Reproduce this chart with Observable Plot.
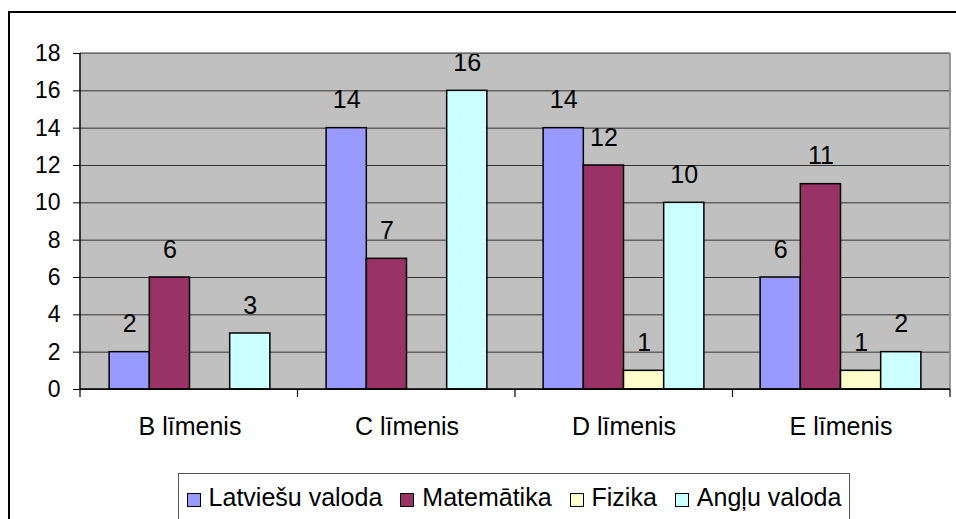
<!DOCTYPE html>
<html>
<head>
<meta charset="utf-8">
<script src="https://cdn.jsdelivr.net/npm/d3@7"></script>
<script src="https://cdn.jsdelivr.net/npm/@observablehq/plot@0.6"></script>
<style>
  html, body { margin: 0; padding: 0; background: #fff; overflow: hidden; }
  body { width: 956px; height: 519px; position: relative; font-family: "Liberation Sans", Arial, sans-serif; }
  #outer { position: absolute; left: 8px; top: 11px; width: 1000px; height: 600px; border: 2px solid #000; box-sizing: border-box; }
  #chart { position: absolute; left: 0; top: 0; }
  #legend { position: absolute; left: 178px; top: 473px; width: 672px; height: 70px; box-sizing: border-box;
            border: 1.5px solid #555; background: #fff; display: flex; align-items: flex-start; justify-content: center;
            padding-top: 9px; font-size: 25px; color: #000; }
  .item { display: flex; align-items: center; margin: 0 9px; white-space: nowrap; }
  .sw { width: 14px; height: 14px; border: 1.5px solid #000; margin-right: 8px; margin-top: 5px; box-sizing: border-box; }
</style>
</head>
<body>
<div id="outer"></div>
<div id="chart"></div>
<div id="legend"></div>
<script>
const categories = ["B līmenis", "C līmenis", "D līmenis", "E līmenis"];
const series = ["Latviešu valoda", "Matemātika", "Fizika", "Angļu valoda"];
const latviesu = [2, 14, 14, 6];
const matematika = [6, 7, 12, 11];
const fizika = [0, 0, 1, 1];
const anglu = [3, 16, 10, 2];
const colors = ["#9999FF", "#993366", "#FFFFCC", "#CCFFFF"];
const yTicks = [0, 2, 4, 6, 8, 10, 12, 14, 16, 18];

const valuesBySeries = [latviesu, matematika, fizika, anglu];
const rows = [];
categories.forEach((c, i) => {
  series.forEach((s, j) => {
    rows.push({cat: c, series: s, value: valuesBySeries[j][i]});
  });
});
const nonZero = rows.filter(d => d.value > 0);

const font = "'Liberation Sans', Arial, sans-serif";

const chart = Plot.plot({
  width: 956,
  height: 519,
  marginTop: 53,
  marginBottom: 130,
  marginLeft: 80,
  marginRight: 6,
  style: {fontFamily: font, background: "transparent", color: "#000", overflow: "visible"},
  fx: {domain: categories, padding: 0, label: null},
  x: {domain: series, paddingInner: 0, paddingOuter: 0.7, round: false, axis: null},
  y: {domain: [0, 18], label: null},
  color: {domain: series, range: colors},
  marks: [
    Plot.frame({fill: "#C0C0C0", stroke: null, insetLeft: -1, insetRight: -1}),
    Plot.gridY(yTicks, {stroke: "#333", strokeOpacity: 1, strokeWidth: 1}),
    Plot.barY(nonZero, {fx: "cat", x: "series", y: "value", fill: "series", stroke: "#000", strokeWidth: 1.5}),
    Plot.text(nonZero, {fx: "cat", x: "series", y: "value", text: d => String(d.value), dy: -20, lineAnchor: "bottom", fontSize: 25, fill: "#000"}),
    Plot.axisY(yTicks, {anchor: "left", tickSize: 8, tickPadding: 13, fontSize: 23, label: null, stroke: "#000"}),
    Plot.axisFx({anchor: "bottom", tickSize: 0, tickPadding: 28, fontSize: 25, label: null})
  ]
});
document.getElementById("chart").appendChild(chart);

// structural lines from the library's scales
const fxs = chart.scale("fx");
const ys = chart.scale("y");
const band = d3.scaleBand().domain(fxs.domain).range(fxs.range)
  .paddingInner(fxs.paddingInner ?? 0).paddingOuter(fxs.paddingOuter ?? 0);
const yl = d3.scaleLinear().domain(ys.domain).range(ys.range);
const svg = d3.select(chart.tagName.toLowerCase() === "svg" ? chart : chart.querySelector("svg"));
const g = svg.append("g");
const edges = categories.map(c => band(c)).concat([band(categories[categories.length - 1]) + band.bandwidth()]);
const left = edges[0], right = edges[edges.length - 1];
const y0 = yl(0), yTop = yl(18);
g.append("line").attr("x1", left).attr("x2", right).attr("y1", yTop).attr("y2", yTop).attr("stroke", "#808080").attr("stroke-width", 1.5);
g.append("line").attr("x1", right).attr("x2", right).attr("y1", yTop).attr("y2", y0).attr("stroke", "#808080").attr("stroke-width", 1.5);
g.append("line").attr("x1", left).attr("x2", left).attr("y1", yTop).attr("y2", y0).attr("stroke", "#000").attr("stroke-width", 1.5);
g.append("line").attr("x1", left).attr("x2", right).attr("y1", y0).attr("y2", y0).attr("stroke", "#000").attr("stroke-width", 1.5);
edges.forEach(x => {
  g.append("line").attr("x1", x).attr("x2", x).attr("y1", y0).attr("y2", y0 + 8).attr("stroke", "#000").attr("stroke-width", 1.2);
});

// legend
const legend = document.getElementById("legend");
series.forEach((s, i) => {
  const item = document.createElement("div");
  item.className = "item";
  const sw = document.createElement("div");
  sw.className = "sw";
  sw.style.background = colors[i];
  const t = document.createElement("span");
  t.textContent = s;
  item.appendChild(sw);
  item.appendChild(t);
  legend.appendChild(item);
});
</script>
</body>
</html>
